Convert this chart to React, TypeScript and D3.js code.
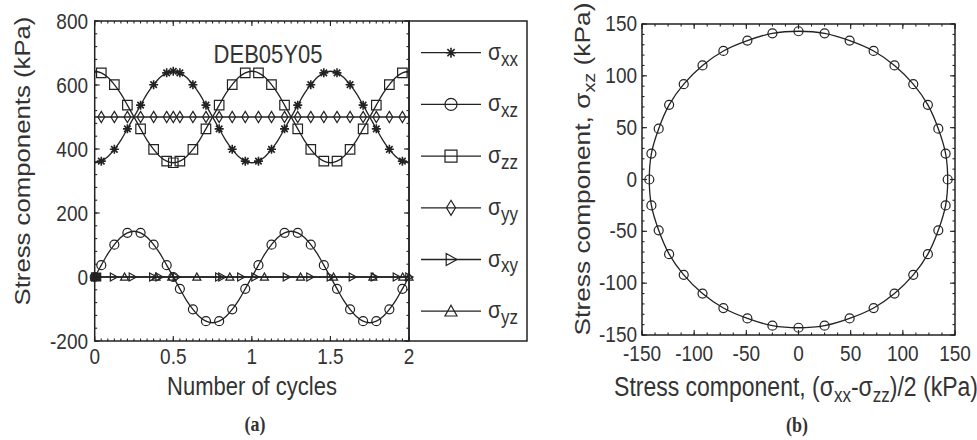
import React from "react";
import * as d3 from "d3";

// ---------- data ----------
const cycles = [0, 0.042, 0.083, 0.125, 0.167, 0.208, 0.25, 0.292, 0.333, 0.375, 0.417, 0.458, 0.5, 0.542, 0.583, 0.625, 0.667, 0.708, 0.75, 0.792, 0.833, 0.875, 0.917, 0.958, 1, 1.042, 1.083, 1.125, 1.167, 1.208, 1.25, 1.292, 1.333, 1.375, 1.417, 1.458, 1.5, 1.542, 1.583, 1.625, 1.667, 1.708, 1.75, 1.792, 1.833, 1.875, 1.917, 1.958, 2];
const sigmaXX = [357, 362, 376, 399, 428, 463, 500, 537, 572, 601, 624, 638, 643, 638, 624, 601, 572, 537, 500, 463, 428, 399, 376, 362, 357, 362, 376, 399, 428, 463, 500, 537, 572, 601, 624, 638, 643, 638, 624, 601, 572, 537, 500, 463, 428, 399, 376, 362, 357];
const sigmaZZ = [643, 638, 624, 601, 572, 537, 500, 463, 428, 399, 376, 362, 357, 362, 376, 399, 428, 463, 500, 537, 572, 601, 624, 638, 643, 638, 624, 601, 572, 537, 500, 463, 428, 399, 376, 362, 357, 362, 376, 399, 428, 463, 500, 537, 572, 601, 624, 638, 643];
const sigmaXZ = [0, 37, 72, 101, 124, 138, 143, 138, 124, 101, 72, 37, 0, -37, -72, -101, -124, -138, -143, -138, -124, -101, -72, -37, 0, 37, 72, 101, 124, 138, 143, 138, 124, 101, 72, 37, 0, -37, -72, -101, -124, -138, -143, -138, -124, -101, -72, -37, 0];
const sigmaYY = [500, 500, 500, 500, 500, 500, 500, 500, 500, 500, 500, 500, 500, 500, 500, 500, 500, 500, 500, 500, 500, 500, 500, 500, 500, 500, 500, 500, 500, 500, 500, 500, 500, 500, 500, 500, 500, 500, 500, 500, 500, 500, 500, 500, 500, 500, 500, 500, 500];
const markerIndex = [1, 3, 5, 7, 9, 11, 12, 13, 15, 17, 19, 21, 23, 25, 27, 29, 31, 33, 35, 37, 39, 41, 43, 45, 47];
const xzExtraMarkerIndex = [0];

const xyCycles = [0, 0.12, 0.24, 0.37, 0.41, 0.52, 0.79, 0.81, 0.93, 1.02, 1.22, 1.37, 1.5, 1.64, 1.78, 1.92, 2.0];
const sigmaXY = [0, 0, 0, 0, 0, 0, 0, 0, 0, 0, 0, 0, 0, 0, 0, 0, 0];
const yzCycles = [0, 0.19, 0.39, 0.49, 0.65, 0.86, 1.08, 1.31, 1.52, 1.77, 1.96, 2.0];
const sigmaYZ = [0, 0, 0, 0, 0, 0, 0, 0, 0, 0, 0, 0];
const originCycle = [0];
const originValue = [0];

// panel (b): (sxx - szz)/2 vs sxz
const halfDiff = [-143, -141, -134, -124, -110, -92, -72, -49, -25, 0, 25, 49, 72, 92, 110, 124, 134, 141, 143, 141, 134, 124, 110, 92, 72, 49, 25, 0, -25, -49, -72, -92, -110, -124, -134, -141];
const shearXZ = [0, 25, 49, 72, 92, 110, 124, 134, 141, 143, 141, 134, 124, 110, 92, 72, 49, 25, 0, -25, -49, -72, -92, -110, -124, -134, -141, -143, -141, -134, -124, -110, -92, -72, -49, -25];

const leftXTicks = [0, 0.5, 1, 1.5, 2];
const leftXLabels = ["0", "0.5", "1", "1.5", "2"];
const leftYTicks = [-200, 0, 200, 400, 600, 800];
const rightTicks = [-150, -100, -50, 0, 50, 100, 150];
const legendSubs = ["xx", "xz", "zz", "yy", "xy", "yz"];
const legendMarkers = ["star", "circle", "square", "diamond", "triright", "triup"];

// ---------- style ----------
const SY = 1.17;
const INK = "#222";
const TXT = "#333";
const FONT = "'Liberation Sans', Arial, sans-serif";

const xL = d3.scaleLinear().domain([0, 2]).range([94.7, 409]);
const yL = d3.scaleLinear().domain([-200, 800]).range([341, 21]);
const xR = d3.scaleLinear().domain([-150, 150]).range([642, 955]);
const yR = d3.scaleLinear().domain([-150, 150]).range([335, 24]);

function markerPath(kind: string, s: number): string {
  const h = s / 2;
  switch (kind) {
    case "star": {
      const d = h * 0.72;
      return `M0,${-h}L0,${h}M${-h},0L${h},0M${-d},${-d}L${d},${d}M${-d},${d}L${d},${-d}`;
    }
    case "square":
      return `M${-h},${-h}H${h}V${h}H${-h}Z`;
    case "diamond":
      return `M0,${-h * 1.25}L${h * 0.75},0L0,${h * 1.25}L${-h * 0.75},0Z`;
    case "triright":
      return `M${-h * 0.8},${-h}L${h},0L${-h * 0.8},${h}Z`;
    case "triup":
      return `M0,${-h}L${h},${h * 0.8}L${-h},${h * 0.8}Z`;
    default:
      return "";
  }
}

function Marker({ kind, x, y, s, filled }: { kind: string; x: number; y: number; s: number; filled?: boolean }) {
  if (kind === "circle")
    return <circle cx={x} cy={y} r={s / 2} fill="none" stroke={INK} strokeWidth={1.2} />;
  return (
    <path
      d={markerPath(kind, s)}
      transform={`translate(${x},${y})`}
      fill={filled ? INK : "none"}
      stroke={INK}
      strokeWidth={kind === "star" ? 1.6 : 1.2}
    />
  );
}

function T({ x, y, size, anchor = "middle", rotate = 0, weight, family, children }: any) {
  return (
    <g transform={`translate(${x},${y}) scale(1,${SY})`}>
      <text
        transform={rotate ? `rotate(${rotate})` : undefined}
        textAnchor={anchor}
        fontSize={size}
        fontFamily={family || FONT}
        fontWeight={weight}
        fill={TXT}
      >
        {children}
      </text>
    </g>
  );
}

function Frame({ x0, x1, y0, y1, xMinor, yMinor, xMajor, yMajor }: any) {
  const ticks: JSX.Element[] = [];
  xMinor.forEach((px: number, i: number) => {
    ticks.push(<line key={"xm" + i} x1={px} x2={px} y1={y1} y2={y1 - 2.5} />);
    ticks.push(<line key={"xmt" + i} x1={px} x2={px} y1={y0} y2={y0 + 2.5} />);
  });
  yMinor.forEach((py: number, i: number) => {
    ticks.push(<line key={"ym" + i} x1={x0} x2={x0 + 2.5} y1={py} y2={py} />);
    ticks.push(<line key={"ymr" + i} x1={x1} x2={x1 - 2.5} y1={py} y2={py} />);
  });
  xMajor.forEach((px: number, i: number) => {
    ticks.push(<line key={"xM" + i} x1={px} x2={px} y1={y1} y2={y1 - 5} />);
    ticks.push(<line key={"xMt" + i} x1={px} x2={px} y1={y0} y2={y0 + 5} />);
  });
  yMajor.forEach((py: number, i: number) => {
    ticks.push(<line key={"yM" + i} x1={x0} x2={x0 + 5} y1={py} y2={py} />);
    ticks.push(<line key={"yMr" + i} x1={x1} x2={x1 - 5} y1={py} y2={py} />);
  });
  return (
    <g stroke={INK} strokeWidth={1.1} fill="none">
      {ticks}
      <rect x={x0} y={y0} width={x1 - x0} height={y1 - y0} strokeWidth={1.5} />
    </g>
  );
}

export default function App() {
  const lineL = d3
    .line<[number, number]>()
    .x((d) => xL(d[0]))
    .y((d) => yL(d[1]))
    .curve(d3.curveCatmullRom.alpha(0.5));
  const series49 = [
    { vals: sigmaXX, kind: "star" },
    { vals: sigmaZZ, kind: "square" },
    { vals: sigmaYY, kind: "diamond" },
    { vals: sigmaXZ, kind: "circle" },
  ];
  const sparse = [
    { t: xyCycles, vals: sigmaXY, kind: "triright" },
    { t: yzCycles, vals: sigmaYZ, kind: "triup" },
  ];

  const circleLine = d3
    .line<[number, number]>()
    .x((d) => xR(d[0]))
    .y((d) => yR(d[1]))
    .curve(d3.curveCatmullRomClosed.alpha(0.5));
  const circlePts: [number, number][] = halfDiff.map((v, i) => [v, shearXZ[i]]);

  const lxMinor = d3.range(0, 48.5).map((i) => xL(i / 24));
  const lyMinor = d3.range(-200, 800.001, 40).map((v) => yL(v));
  const rxMinor = d3.range(-150, 150.001, 12.5).map((v) => xR(v));
  const ryMinor = d3.range(-150, 150.001, 10).map((v) => yR(v));

  const legendY0 = 52.7;
  const legendDy = 51.7;

  return (
    <svg
      width={977}
      height={440}
      style={{ position: "absolute", left: 0, top: 0, background: "#fff" }}
    >
      <rect width={977} height={440} fill="#fff" />

      {/* ---------- panel (a) ---------- */}
      <g fill="none" stroke={INK} strokeWidth={1.3}>
        {series49.map((s, k) => (
          <path key={k} d={lineL(cycles.map((c, i) => [c, s.vals[i]]) as [number, number][]) || ""} />
        ))}
        {sparse.map((s, k) => (
          <path key={"s" + k} d={lineL(s.t.map((c, i) => [c, s.vals[i]]) as [number, number][]) || ""} />
        ))}
      </g>
      {series49.map((s, k) =>
        (s.kind === "circle" ? xzExtraMarkerIndex.concat(markerIndex) : markerIndex).map((i) => (
          <Marker key={k + "-" + i} kind={s.kind} x={xL(cycles[i])} y={yL(s.vals[i])} s={s.kind === "square" ? 9.5 : 9} />
        ))
      )}
      {sparse.map((s, k) =>
        s.t.map((c, i) => <Marker key={"sp" + k + "-" + i} kind={s.kind} x={xL(c)} y={yL(s.vals[i])} s={8} />)
      )}
      {originCycle.map((c, i) => (
        <Marker key={"o" + i} kind="square" x={xL(c) + 2} y={yL(originValue[i])} s={8} filled />
      ))}

      <Frame
        x0={xL(0)}
        x1={xL(2)}
        y0={yL(800)}
        y1={yL(-200)}
        xMinor={lxMinor}
        yMinor={lyMinor}
        xMajor={leftXTicks.map((v) => xL(v))}
        yMajor={leftYTicks.map((v) => yL(v))}
      />

      {leftXTicks.map((v, i) => (
        <T key={"lx" + i} x={xL(v)} y={364} size={19}>
          {leftXLabels[i]}
        </T>
      ))}
      {leftYTicks.map((v) => (
        <T key={"ly" + v} x={88} y={yL(v) + 7.6} size={19} anchor="end">
          {String(v)}
        </T>
      ))}
      <T x={252} y={395} size={22}>Number of cycles</T>
      <T x={30} y={161} size={22} rotate={-90}>Stress components (kPa)</T>
      <T x={268} y={63} size={22}>DEB05Y05</T>

      {/* legend */}
      <rect x={409} y={21} width={118} height={320} fill="none" stroke={INK} strokeWidth={1.5} />
      {legendSubs.map((sub, i) => {
        const y = legendY0 + i * legendDy;
        return (
          <g key={"lg" + i}>
            <line x1={421} x2={481} y1={y} y2={y} stroke={INK} strokeWidth={1.3} />
            <Marker kind={legendMarkers[i]} x={451} y={y} s={legendMarkers[i] === "star" ? 10 : 12} />
            <T x={488} y={y + 7} size={21} anchor="start">
              σ<tspan fontSize={17} dy={5}>{sub}</tspan>
            </T>
          </g>
        );
      })}

      <T x={255} y={431} size={18} weight="bold" family="'Liberation Serif', 'Times New Roman', serif">
        (a)
      </T>

      {/* ---------- panel (b) ---------- */}
      <path d={circleLine(circlePts) || ""} fill="none" stroke={INK} strokeWidth={1.3} />
      {circlePts.map((p, i) => (
        <Marker key={"c" + i} kind="circle" x={xR(p[0])} y={yR(p[1])} s={9} />
      ))}
      <Frame
        x0={xR(-150)}
        x1={xR(150)}
        y0={yR(150)}
        y1={yR(-150)}
        xMinor={rxMinor}
        yMinor={ryMinor}
        xMajor={rightTicks.map((v) => xR(v))}
        yMajor={rightTicks.map((v) => yR(v))}
      />
      {rightTicks.map((v) => (
        <T key={"rx" + v} x={xR(v)} y={361} size={19}>
          {String(v)}
        </T>
      ))}
      {rightTicks.map((v) => (
        <T key={"ry" + v} x={637} y={yR(v) + 7} size={19} anchor="end">
          {String(v)}
        </T>
      ))}
      <T x={796} y={396} size={23}>
        Stress component, (σ<tspan fontSize={17} dy={5}>xx</tspan>
        <tspan dy={-5}>-σ</tspan>
        <tspan fontSize={17} dy={5}>zz</tspan>
        <tspan dy={-5}>)/2 (kPa)</tspan>
      </T>
      <T x={590} y={169} size={22.5} rotate={-90}>
        Stress component, σ<tspan fontSize={17} dy={5}>xz</tspan>
        <tspan dy={-5}> (kPa)</tspan>
      </T>
      <T x={797} y={432} size={18} weight="bold" family="'Liberation Serif', 'Times New Roman', serif">
        (b)
      </T>
    </svg>
  );
}
